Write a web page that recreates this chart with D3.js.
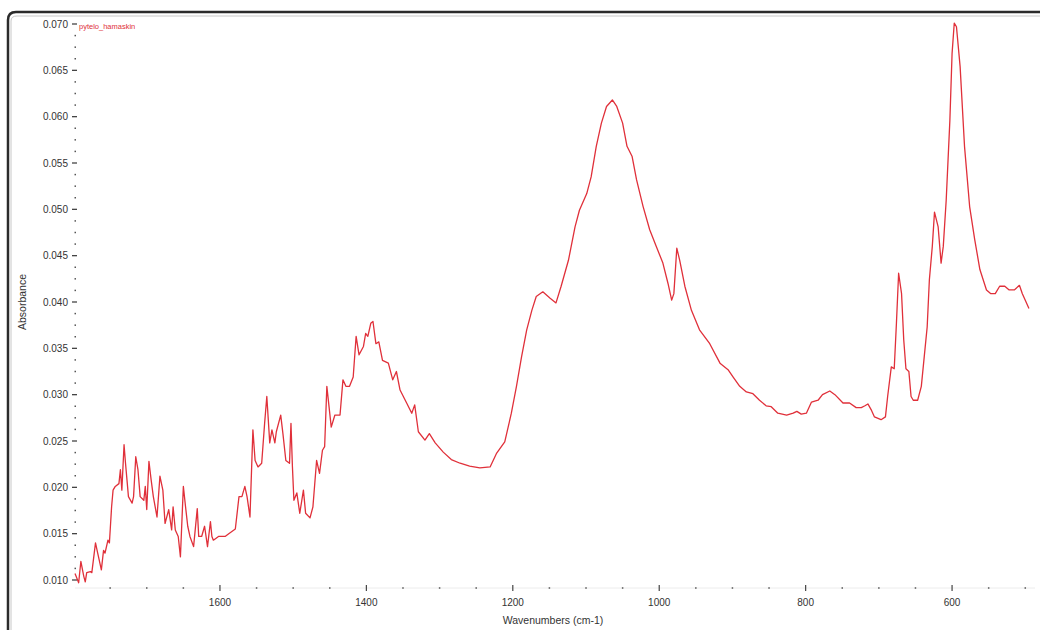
<!DOCTYPE html>
<html>
<head>
<meta charset="utf-8">
<script src="https://cdn.jsdelivr.net/npm/d3@7"></script>
<style>
  html, body { margin: 0; padding: 0; background: #fff; }
  svg { display: block; }
  text { font-family: "Liberation Sans", Arial, sans-serif; fill: #333; }
</style>
</head>
<body>
<svg id="chart" width="1040" height="630"></svg>
<script>
// spectrum (cm-1 / absorbance)
var wavenumber = [
  1798,1793,1790,1786,1784,1782,1777,1775,1770,1767,1762,1759,1757,1753,1751,1748,1746,1743,1738,1736,
  1734,1731,1729,1727,1725,1720,1718,1715,1712,1709,1704,1702,1700,1697,1694,1691,1686,1682,1678,1675,
  1670,1666,1664,1661,1657,1654,1650,1647,1644,1641,1636,1631,1629,1625,1621,1617,1613,1611,1609,1602,
  1593,1588,1579,1574,1570,1566,1563,1559,
  1555,1552,1548,1543,1539,1536,1532,1529,1525,1523,1517,1514,1510,1505,1503,1501,1499,1495,1491,1486,
  1483,1477,1473,1468,1464,1460,1457,1454,1448,1443,1436,1432,1428,1423,1418,1414,1410,1404,1401,1398,
  1394,1391,1387,1383,1378,1370,1364,1359,1354,1345,1338,1334,1329,1320,1314,1306,1295,1284,1272,1259,
  1245,1231,1222,1211,1202,1195,1188,1181,1174,1168,1159,1149,1141,1134,1124,1115,1109,1099,1093,1086,
  1079,1072,1064,1058,1050,1044,1037,1031,1022,1013,1004,995,988,983,980,976,972,965,956,945,
  931,917,
  906,899,890,881,872,863,854,847,838,826,817,812,806,799,792,783,777,767,760,749,
  740,731,724,719,715,710,706,697,691,688,683,679,676,673,669,666,663,659,656,653,
  647,642,638,634,631,627,624,619,615,612,608,603,600,597,594,589,583,576,569,562,
  553,547,541,535,528,522,515,508,504,500,495
];
var absorbance = [
  0.0107,0.0097,0.0120,0.0104,0.0098,0.0108,0.0109,0.0108,0.0140,0.0129,0.0111,0.0132,0.0129,0.0143,0.0140,0.0179,0.0197,0.0201,0.0204,0.0219,
  0.0197,0.0246,0.0226,0.0208,0.0190,0.0183,0.0190,0.0233,0.0219,0.0190,0.0186,0.0201,0.0176,0.0228,0.0208,0.0190,0.0168,0.0212,0.0197,0.0161,
  0.0176,0.0154,0.0179,0.0154,0.0147,0.0125,0.0201,0.0179,0.0158,0.0147,0.0136,0.0177,0.0147,0.0147,0.0158,0.0136,0.0163,0.0147,0.0143,0.0147,
  0.0147,0.0150,0.0155,0.0190,0.0190,0.0201,0.0190,0.0168,
  0.0262,0.0229,0.0222,0.0226,0.0269,0.0298,0.0248,0.0262,0.0248,0.0260,0.0278,0.0258,0.0229,0.0226,0.0269,0.0222,0.0186,0.0194,0.0172,0.0197,
  0.0172,0.0167,0.0179,0.0229,0.0215,0.0240,0.0244,0.0309,0.0265,0.0278,0.0278,0.0316,0.0309,0.0309,0.0319,0.0363,0.0343,0.0352,0.0366,0.0363,
  0.0377,0.0379,0.0355,0.0357,0.0337,0.0334,0.0316,0.0325,0.0305,0.0291,0.0280,0.0289,0.0260,0.0251,0.0258,0.0248,0.0238,0.0230,0.0226,0.0223,
  0.0221,0.0222,0.0237,0.0249,0.0280,0.0309,0.0341,0.0370,0.0391,0.0406,0.0411,0.0404,0.0399,0.0417,0.0445,0.0481,0.0499,0.0517,0.0535,0.0568,
  0.0593,0.0611,0.0618,0.0611,0.0593,0.0568,0.0557,0.0532,0.0503,0.0478,0.0460,0.0442,0.0420,0.0402,0.0409,0.0458,0.0445,0.0417,0.0391,0.0370,
  0.0355,0.0334,
  0.0327,0.0319,0.0309,0.0303,0.0301,0.0294,0.0288,0.0287,0.0280,0.0278,0.0280,0.0282,0.0279,0.0280,0.0292,0.0294,0.0300,0.0304,0.0300,0.0291,
  0.0291,0.0286,0.0286,0.0288,0.0290,0.0283,0.0276,0.0273,0.0276,0.0298,0.0330,0.0328,0.0377,0.0431,0.0409,0.0359,0.0328,0.0325,0.0298,0.0294,
  0.0294,0.0309,0.0341,0.0373,0.0424,0.0460,0.0497,0.0481,0.0442,0.0460,0.0510,0.0596,0.0668,0.0701,0.0697,0.0654,0.0568,0.0503,0.0467,0.0435,
  0.0413,0.0409,0.0409,0.0417,0.0417,0.0413,0.0413,0.0418,0.0409,0.0402,0.0393
];
var xTicks = [1600, 1400, 1200, 1000, 800, 600];
var yTicks = [0.010, 0.015, 0.020, 0.025, 0.030, 0.035, 0.040, 0.045, 0.050, 0.055, 0.060, 0.065, 0.070];
var seriesName = "pytelo_hamaskin";

var svg = d3.select("#chart");

var x = d3.scaleLinear().domain([1798, 490]).range([75, 1032.6]),
    y = d3.scaleLinear().domain([0.010, 0.070]).range([580, 24]);
var axisY = 588;

// scanned page frame
svg.append("path")
    .attr("d", "M8,630 L8,20 Q8,12 16,12 L1040,12")
    .attr("fill", "none").attr("stroke", "#2b2b2b").attr("stroke-width", 2.5);
svg.append("path")
    .attr("d", "M11,630 L11,21 Q11,16 17,16 L1040,16")
    .attr("fill", "none").attr("stroke", "#c8c8c8").attr("stroke-width", 1);

// faint baseline of the x axis
svg.append("line")
    .attr("x1", 75).attr("x2", 1035).attr("y1", axisY).attr("y2", axisY)
    .attr("stroke", "#ececec").attr("stroke-width", 1);

// y axis: dash at each major tick, dots in between
var gy = svg.append("g");
gy.selectAll("line.major").data(yTicks).enter().append("line")
    .attr("class", "major")
    .attr("x1", 72).attr("x2", 77)
    .attr("y1", function (d) { return y(d); })
    .attr("y2", function (d) { return y(d); })
    .attr("stroke", "#444").attr("stroke-width", 1.3);
var yMinor = [];
yTicks.slice(0, -1).forEach(function (t) {
    for (var k = 1; k < 4; k++) yMinor.push(t + k * 0.00125);
});
gy.selectAll("rect.minor").data(yMinor).enter().append("rect")
    .attr("x", 74.5).attr("width", 1.5).attr("height", 1.5)
    .attr("y", function (d) { return y(d) - 0.75; })
    .attr("fill", "#555");
gy.selectAll("text").data(yTicks).enter().append("text")
    .attr("x", 68)
    .attr("y", function (d) { return y(d); })
    .attr("dy", "0.35em")
    .attr("text-anchor", "end")
    .style("font-size", "10px")
    .text(function (d) { return d3.format(".3f")(d); });

// x axis: small tick at labelled values, dots every 50
var gx = svg.append("g");
var xMinor = d3.range(1750, 490, -50).filter(function (d) { return d % 200 !== 0; });
gx.selectAll("rect.minor").data(xMinor).enter().append("rect")
    .attr("y", axisY - 0.75).attr("width", 1.5).attr("height", 1.5)
    .attr("x", function (d) { return x(d) - 0.75; })
    .attr("fill", "#555");
gx.selectAll("line.major").data(xTicks).enter().append("line")
    .attr("y1", axisY - 3).attr("y2", axisY + 3)
    .attr("x1", function (d) { return x(d); })
    .attr("x2", function (d) { return x(d); })
    .attr("stroke", "#444").attr("stroke-width", 1.2);
gx.selectAll("text").data(xTicks).enter().append("text")
    .attr("x", function (d) { return x(d); })
    .attr("y", 606)
    .attr("text-anchor", "middle")
    .style("font-size", "10px")
    .text(function (d) { return d; });

// axis titles
svg.append("text")
    .attr("x", 553).attr("y", 624)
    .attr("text-anchor", "middle")
    .style("font-size", "10.5px")
    .text("Wavenumbers (cm-1)");
svg.append("text")
    .attr("transform", "translate(26,302) rotate(-90)")
    .attr("text-anchor", "middle")
    .style("font-size", "10.5px")
    .text("Absorbance");

// series name in the corner
svg.append("text")
    .attr("x", 79).attr("y", 29)
    .style("font-size", "7.5px")
    .style("fill", "#e0303a")
    .text(seriesName);

// the spectrum
var pts = wavenumber.map(function (w, i) { return [w, absorbance[i]]; });
var line = d3.line()
    .x(function (d) { return x(d[0]); })
    .y(function (d) { return y(d[1]); });
svg.append("path")
    .datum(pts)
    .attr("d", line)
    .attr("fill", "none")
    .attr("stroke", "#e0303a")
    .attr("stroke-width", 1.3)
    .attr("stroke-linejoin", "round");
</script>
</body>
</html>
